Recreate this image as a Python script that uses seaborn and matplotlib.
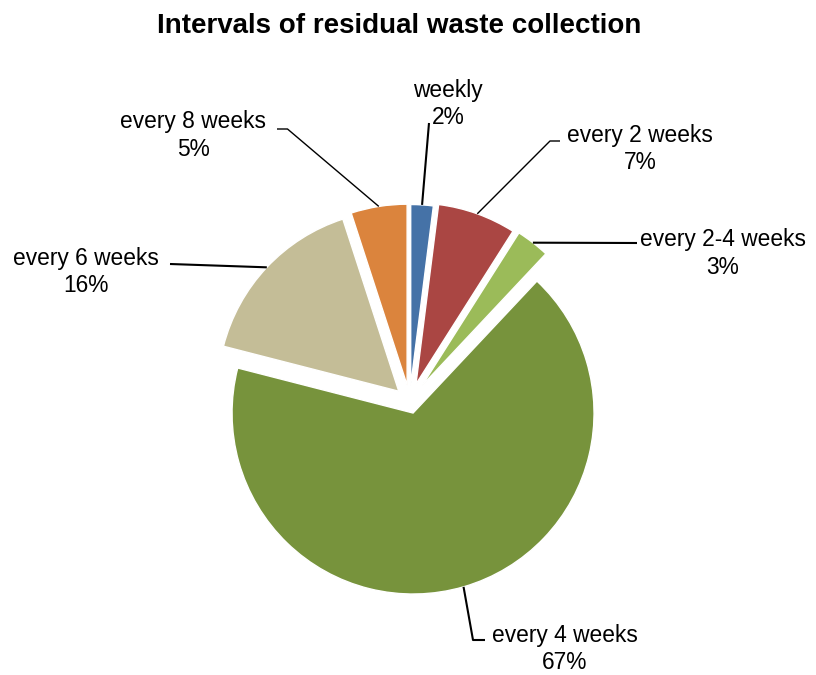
import matplotlib
matplotlib.use("Agg")
import matplotlib.pyplot as plt
import seaborn as sns
import numpy as np

# Share of municipalities by residual waste collection interval (%)
categories = ["weekly", "every 2 weeks", "every 2-4 weeks",
              "every 4 weeks", "every 6 weeks", "every 8 weeks"]
shares = [2, 7, 3, 67, 16, 5]
slice_colors = ["#4572A7", "#AA4643", "#9BBB59", "#77933C", "#C4BD97", "#DB843D"]

W, H = 816, 675

# Layout (pixel coordinates, y measured from the top)
explode_px = [16, 18.5, 20, 12, 15, 16.5]
pie_center = (409.7, 401.5)
pie_radius = 181
leader_paths = [
    [(429, 123)],
    [(550, 141), (560, 141)],
    [(637, 243)],
    [(473, 640), (485, 640)],
    [(170, 264)],
    [(287.5, 129), (277, 129)],
]
leader_widths = [1.5, 1.0, 1.5, 1.5, 1.5, 1.0]
label_anchor = [(448, 97), (640, 141.7), (722.5, 246),
                (564.5, 641.7), (86, 265), (193.5, 128.3)]
line_gap = 27.5

sns.set_theme(style="white")
plt.rcParams["font.family"] = ["Liberation Sans", "DejaVu Sans"]
plt.rcParams["text.color"] = "black"

fig = plt.figure(figsize=(W / 100, H / 100), dpi=100)
ax = fig.add_axes([0, 0, 1, 1])

palette = sns.color_palette(slice_colors)
wedges, _ = ax.pie(
    shares, colors=palette, explode=explode_px, startangle=90,
    counterclock=False, radius=pie_radius,
    center=(pie_center[0], H - pie_center[1]),
    wedgeprops=dict(edgecolor="white", linewidth=1.0),
)
ax.set_xlim(0, W)
ax.set_ylim(0, H)
ax.set_aspect("equal")
ax.axis("off")

for w, name, val, path, lw, (lx, ly) in zip(wedges, categories, shares,
                                            leader_paths, leader_widths,
                                            label_anchor):
    tm = np.deg2rad(0.5 * (w.theta1 + w.theta2))
    sx = w.center[0] + w.r * np.cos(tm)
    sy = w.center[1] + w.r * np.sin(tm)
    xs = [sx] + [p[0] for p in path]
    ys = [sy] + [H - p[1] for p in path]
    ax.plot(xs, ys, color="black", lw=lw, solid_capstyle="butt")
    ax.text(lx, H - ly, name, ha="center", va="baseline", fontsize=16.4,
            color="black")
    ax.text(lx, H - ly - line_gap, f"{val}%", ha="center", va="baseline",
            fontsize=16.4, color="black")

ax.text(399, H - 33, "Intervals of residual waste collection", ha="center",
        va="baseline", fontsize=20, fontweight="bold", color="black")

fig.savefig("out.png", dpi=100)
